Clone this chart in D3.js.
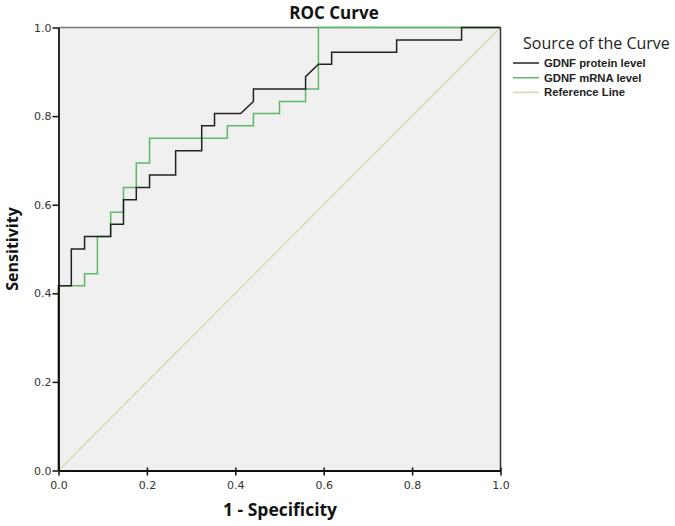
<!DOCTYPE html>
<html>
<head>
<meta charset="utf-8">
<script src="https://cdn.jsdelivr.net/npm/d3@7"></script>
<style>
  html, body { margin: 0; padding: 0; background: #fff; }
  svg { display: block; }
</style>
</head>
<body>
<svg id="chart" width="675" height="526"></svg>
<script>
// ---- Data ----
const xTicks = [0.0, 0.2, 0.4, 0.6, 0.8, 1.0];
const yTicks = [0.0, 0.2, 0.4, 0.6, 0.8, 1.0];

const proteinFpr = [0, 0, 0.029, 0.029, 0.059, 0.059, 0.118, 0.118, 0.147, 0.147, 0.176, 0.176, 0.206, 0.206, 0.265, 0.265, 0.324, 0.324, 0.353, 0.353, 0.412, 0.441, 0.441, 0.559, 0.559, 0.588, 0.618, 0.618, 0.765, 0.765, 0.912, 0.912, 1.0];
const proteinTpr = [0, 0.417, 0.417, 0.500, 0.500, 0.528, 0.528, 0.556, 0.556, 0.611, 0.611, 0.639, 0.639, 0.667, 0.667, 0.722, 0.722, 0.778, 0.778, 0.806, 0.806, 0.833, 0.861, 0.861, 0.889, 0.917, 0.917, 0.944, 0.944, 0.972, 0.972, 1.0, 1.0];

const mrnaFpr = [0, 0, 0.059, 0.059, 0.088, 0.088, 0.118, 0.118, 0.147, 0.147, 0.176, 0.176, 0.206, 0.206, 0.382, 0.382, 0.441, 0.441, 0.500, 0.500, 0.559, 0.559, 0.588, 0.588, 1.0];
const mrnaTpr = [0, 0.417, 0.417, 0.444, 0.444, 0.528, 0.528, 0.583, 0.583, 0.639, 0.639, 0.694, 0.694, 0.750, 0.750, 0.778, 0.778, 0.806, 0.806, 0.833, 0.833, 0.861, 0.861, 1.0, 1.0];

const refFpr = [0, 1];
const refTpr = [0, 1];

const seriesNames = ["GDNF protein level", "GDNF mRNA level", "Reference Line"];
const seriesColors = ["#222222", "#5cb866", "#d8d5a6"];

// ---- Layout ----
const svg = d3.select("#chart");
const L = 58.5, R = 500.5, T = 27.5, B = 470.5;
const x = d3.scaleLinear().domain([0, 1]).range([L, R]);
const y = d3.scaleLinear().domain([0, 1]).range([B, T]);

// plot background
svg.append("rect").attr("x", L).attr("y", T).attr("width", R - L).attr("height", B - T)
  .attr("fill", "#f0f0f0");

const line = d3.line().x(d => x(d[0])).y(d => y(d[1]));
const toPts = (a, b) => a.map((v, i) => [v, b[i]]);

// reference line
svg.append("path").datum(toPts(refFpr, refTpr)).attr("d", line)
  .attr("fill", "none").attr("stroke", seriesColors[2]).attr("stroke-width", 1.2);

// frame: top grey, right dark
svg.append("line").attr("x1", L).attr("x2", R).attr("y1", T).attr("y2", T)
  .attr("stroke", "#777").attr("stroke-width", 1.5);
svg.append("line").attr("x1", R).attr("x2", R).attr("y1", T).attr("y2", B)
  .attr("stroke", "#333").attr("stroke-width", 1.5);

// curves
svg.append("path").datum(toPts(mrnaFpr, mrnaTpr)).attr("d", line)
  .attr("fill", "none").attr("stroke", seriesColors[1]).attr("stroke-width", 1.5);
svg.append("path").datum(toPts(proteinFpr, proteinTpr)).attr("d", line)
  .attr("fill", "none").attr("stroke", seriesColors[0]).attr("stroke-width", 1.5);

// axes
const xAxis = svg.append("g").attr("transform", `translate(0,${B})`)
  .call(d3.axisBottom(x).tickValues(xTicks).tickFormat(d3.format(".1f")).tickSize(6).tickSizeOuter(0));
const yAxis = svg.append("g").attr("transform", `translate(${L},0)`)
  .call(d3.axisLeft(y).tickValues(yTicks).tickFormat(d3.format(".1f")).tickSize(6).tickSizeOuter(0));

[xAxis, yAxis].forEach(g => {
  g.select(".domain").attr("stroke", "#111").attr("stroke-width", 1.8);
  g.selectAll(".tick line").attr("stroke", "#111").attr("stroke-width", 1.5);
  g.selectAll(".tick text").attr("fill", "#333")
    .style("font-family", "'DejaVu Sans', sans-serif").style("font-size", "11px");
});
xAxis.selectAll(".tick line").attr("y2", 5).attr("y1", -3);
xAxis.selectAll(".tick text").attr("y", 11);
yAxis.selectAll(".tick line").attr("x2", -6).attr("x1", 0);
yAxis.selectAll(".tick text").attr("x", -7);

// title
svg.append("text").attr("x", 334).attr("y", 19).attr("text-anchor", "middle")
  .style("font-family", "'Open Sans', sans-serif").style("font-weight", "bold").style("font-size", "17px")
  .attr("fill", "#111").text("ROC Curve");

// axis titles
svg.append("text").attr("x", 280).attr("y", 516).attr("text-anchor", "middle")
  .style("font-family", "'Open Sans', sans-serif").style("font-weight", "bold").style("font-size", "17.5px")
  .attr("fill", "#111").text("1 - Specificity");
svg.append("text").attr("transform", "translate(18,249) rotate(-90)").attr("text-anchor", "middle")
  .style("font-family", "'Open Sans', sans-serif").style("font-weight", "bold").style("font-size", "16px")
  .attr("fill", "#111").text("Sensitivity");

// legend
svg.append("text").attr("x", 523).attr("y", 49)
  .style("font-family", "'Open Sans', sans-serif").style("font-size", "16px")
  .attr("fill", "#222").text("Source of the Curve");
const leg = svg.append("g");
seriesNames.forEach((name, i) => {
  const yy = 63 + i * 14.7;
  leg.append("line").attr("x1", 513).attr("x2", 539).attr("y1", yy).attr("y2", yy)
    .attr("stroke", seriesColors[i]).attr("stroke-width", 1.5);
  leg.append("text").attr("x", 544).attr("y", yy + 4)
    .style("font-family", "'Liberation Sans', Arial, sans-serif").style("font-weight", "bold").style("font-size", "11.3px")
    .attr("fill", "#222").text(name);
});
</script>
</body>
</html>
